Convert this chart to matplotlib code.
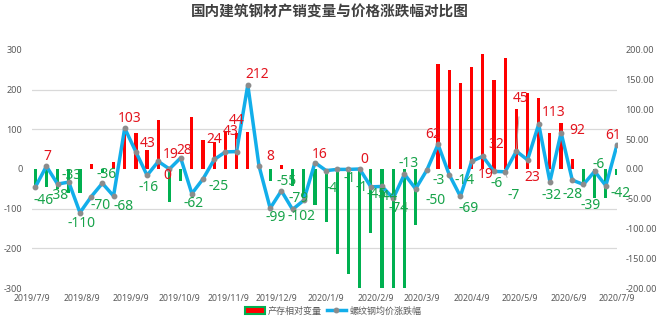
import numpy as np
import pandas as pd
import matplotlib
matplotlib.use("Agg")
import matplotlib.pyplot as plt
from matplotlib.patches import Patch
from matplotlib.lines import Line2D
from matplotlib.ticker import FixedLocator, MultipleLocator, FuncFormatter

plt.rcParams['font.family'] = ['Noto Sans', 'Noto Sans CJK SC', 'DejaVu Sans']
plt.rcParams['axes.unicode_minus'] = False

title = "国内建筑钢材产销变量与价格涨跌幅对比图"
bar_name = "产存相对变量"
line_name = "螺纹钢均价涨跌幅"

# weekly observations
weeks = pd.date_range("2019-07-11", periods=53, freq="7D")

# 螺纹钢均价涨跌幅 (left axis)
price_change = [-46, 7, -38, -33, -110, -70, -36, -68, 103, 43,
                -16, 19, 0, 28, -62, -25, 24, 43, 44, 212,
                8, -99, -55, -102, -79, 16, -4, -1, -1, 0,
                -45, -44, -74, -13, -50, -3, 62, -14, -69, 19,
                32, -6, -7, 45, 23, 113, -32, 92, -28, -39,
                -6, -42, 61]

# 产存相对变量 (right axis)
stock_change = [-33, -30, -33, -41, -40, 8, -7, 12, 60, 60,
                32, 83, -55, -21, 87, 49, 45, 63, 60, 63,
                0, -20, 7, -28, -48, -61, -89, -143, -177, -225,
                -108, -230, -240, -220, -94, -7, 177, 167, 145, 171,
                194, 149, 187, 100, 127, 119, 61, 78, 16, -27,
                -48, -49, -10]

# where each data label sits relative to its point (pixels, y down)
label_offsets = [(8, 13), (1, -10), (1, 11), (3, -7), (2, 11), (9, 9), (4, -9), (10, 11), (5, -10), (12, -8),
                 (1, 12), (12, -7), (-2, 7), (4, -7), (2, 10), (16, 8), (0, -20), (5, -20), (0, -31), (9, -10),
                 (11, -9), (6, 9), (5, -9), (9, 7), (-5, -2), (5, -8), (6, 18), (12, 9), (13, 18), (5, -9),
                 (6, 8), (5, 10), (5, 10), (4, -11), (20, 12), (12, 10), (-5, -10), (15, 6), (8, 12), (14, 13),
                 (13, -12), (3, 12), (8, 24), (4, -53), (5, 18), (15, -12), (2, 14), (16, -2), (0, 14), (7, 21),
                 (4, -7), (15, 8), (-4, -9)]

RED = "#FF0000"
GREEN = "#00B050"
LABEL_RED = "#E3141E"
LABEL_GREEN = "#17A34A"
BLUE = "#12AEEA"
GRID = "#D9D9D9"
TICK = "#595959"

fig = plt.figure(figsize=(6.6, 3.24), dpi=100)
ax = fig.add_axes([0.0485, 0.1111, 0.8864, 0.7346])
ax2 = ax.twinx()
ax.set_zorder(ax2.get_zorder() + 1)
ax.patch.set_visible(False)

# bars on the right axis
bar_colors = [RED if v >= 0 else GREEN for v in stock_change]
ax2.bar(weeks, stock_change, width=2.0, color=bar_colors, zorder=2)
ax2.set_ylim(-200, 200)
ax2.yaxis.set_major_locator(MultipleLocator(50))
ax2.yaxis.set_major_formatter(FuncFormatter(lambda v, p: f"{v:.2f}"))
# gridlines follow the left axis ticks, drawn behind the bars
left_ticks = np.arange(-300, 301, 100)
ax2.yaxis.set_minor_locator(FixedLocator(left_ticks * 200 / 300))
ax2.grid(which="minor", axis="y", color=GRID, lw=0.9, zorder=0)
ax2.tick_params(axis="y", which="both", length=0, pad=6, labelsize=6.5, labelcolor=TICK)

# price line on the left axis
ax.plot(weeks, price_change, color=BLUE, lw=2.5, marker="o", ms=3.2,
        mfc="#8C8C8C", mec="#8C8C8C", solid_joinstyle="round", zorder=3)
ax.set_ylim(-300, 300)
ax.yaxis.set_major_locator(FixedLocator(left_ticks))
ax.yaxis.set_major_formatter(FuncFormatter(lambda v, p: f"{int(v)}"))
ax.tick_params(axis="y", length=0, pad=7, labelsize=6.5, labelcolor=TICK)

ax.set_xlim(pd.Timestamp("2019-07-09"), pd.Timestamp("2020-07-09"))
month_ticks = pd.date_range("2019-07-09", "2020-07-09", freq=pd.DateOffset(months=1))
ax.set_xticks(month_ticks)
ax.set_xticklabels([f"{d.year}/{d.month}/{d.day}" for d in month_ticks])
ax.tick_params(axis="x", length=0, pad=4, labelsize=6.3, labelcolor=TICK)

for a in (ax, ax2):
    for s in a.spines.values():
        s.set_visible(False)

# data labels
for d, v, (dx, dy) in zip(weeks, price_change, label_offsets):
    c = LABEL_RED if v >= 0 else LABEL_GREEN
    arrow = None
    if np.hypot(dx, dy) > 21:
        arrow = dict(arrowstyle="-", color="#A6A6A6", lw=0.6, shrinkA=6, shrinkB=2)
    ax.annotate(str(v), (d, v), xytext=(dx, -dy), textcoords="offset pixels",
                ha="center", va="center", fontsize=10, color=c,
                arrowprops=arrow, zorder=4)

fig.text(0.5, 0.963, title, ha="center", va="center", fontsize=10.5,
         fontweight="bold", color="#404040", family=["Noto Sans CJK SC", "DejaVu Sans"])

handles = [Patch(facecolor=RED, edgecolor=GREEN, lw=1.5),
           Line2D([], [], color=BLUE, lw=2.5, marker="o", ms=3.2, mfc="#8C8C8C", mec="#8C8C8C")]
fig.legend(handles, [bar_name, line_name], loc="center", bbox_to_anchor=(0.505, 0.04),
           ncol=2, frameon=False, fontsize=6.5, handlelength=2.2, handleheight=0.7,
           handletextpad=0.35, columnspacing=0.5, labelcolor=TICK)

fig.savefig("out.png", dpi=100)
